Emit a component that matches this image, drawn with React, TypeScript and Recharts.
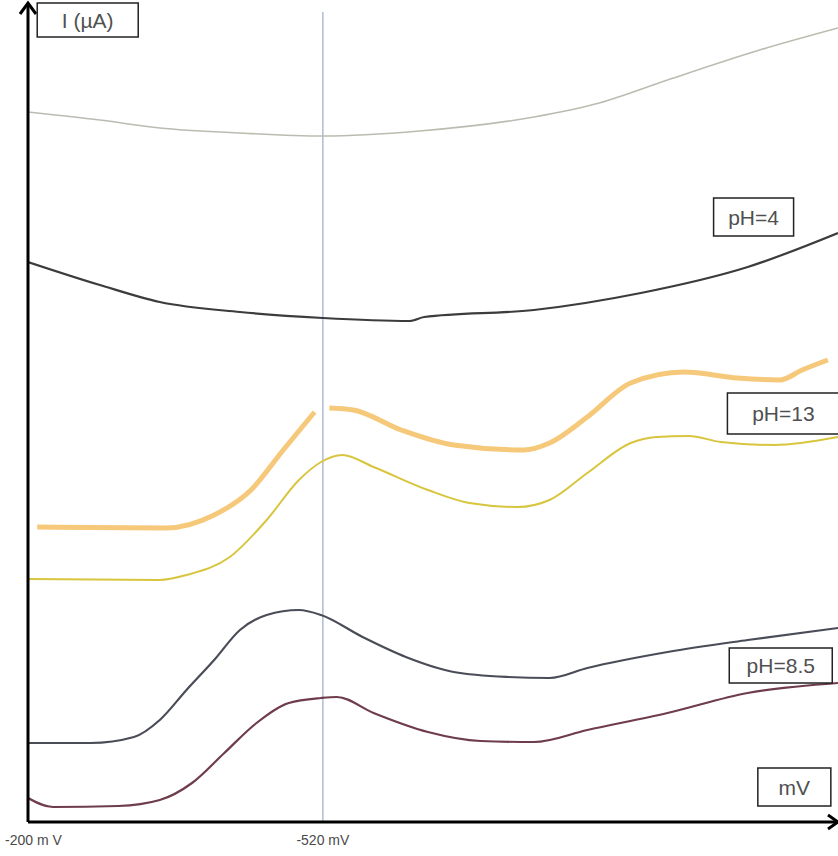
import React from "react";
import {
  LineChart,
  Line,
  XAxis,
  YAxis,
  ReferenceLine,
  ReferenceDot,
} from "recharts";

// Polarogram traces: [potential (mV), current (arb. units)]
const blankTrace: [number, number][] = [
  [-200, 71.0], [-278, 70.2], [-343, 69.4], [-430, 68.9], [-520, 68.6],
  [-625, 69.1], [-749, 70.5], [-820, 71.9], [-894, 74.2], [-994, 77.2],
  [-1079, 79.4],
];

const ph4Trace: [number, number][] = [
  [-200, 56.0], [-278, 53.7], [-343, 52.0], [-430, 51.0], [-520, 50.4],
  [-614, 50.1], [-630, 50.5], [-749, 51.2], [-865, 52.9], [-981, 55.5],
  [-1079, 58.9],
];

// thick trace is broken just before -520 mV
const ph13TraceA: [number, number | null][] = [
  [-210, 29.5], [-350, 29.4], [-402, 30.7], [-442, 33.2], [-477, 37.2],
  [-511, 41.0], [-520, null], [-527, 41.4], [-553, 41.2], [-605, 39.2],
  [-662, 37.7], [-738, 37.2], [-766, 37.9], [-807, 40.5], [-854, 43.9],
  [-912, 45.0], [-970, 44.4], [-1016, 44.2], [-1040, 45.2], [-1068, 46.2],
];

const ph13TraceB: [number, number][] = [
  [-200, 24.3], [-343, 24.2], [-372, 24.7], [-419, 26.5], [-459, 30.2],
  [-494, 34.2], [-518, 36.0], [-541, 36.7], [-575, 35.5], [-634, 33.2],
  [-679, 31.9], [-731, 31.5], [-766, 32.2], [-807, 34.9], [-854, 37.9],
  [-882, 38.5], [-917, 38.6], [-952, 38.0], [-1010, 37.7], [-1079, 38.5],
];

const ph85TraceA: [number, number][] = [
  [-200, 7.9], [-268, 7.9], [-315, 8.5], [-343, 10.2], [-372, 13.2],
  [-402, 16.2], [-430, 19.2], [-459, 20.7], [-494, 21.2], [-518, 20.7],
  [-563, 18.5], [-610, 16.5], [-662, 15.0], [-721, 14.5], [-766, 14.4],
  [-807, 15.4], [-894, 17.0], [-981, 18.2], [-1079, 19.4],
];

const ph85TraceB: [number, number][] = [
  [-200, 2.4], [-227, 1.5], [-298, 1.6], [-343, 2.2], [-378, 3.9],
  [-413, 6.9], [-448, 9.9], [-483, 11.9], [-518, 12.4], [-535, 12.5],
  [-575, 10.9], [-634, 9.0], [-691, 8.1], [-749, 8.0], [-807, 9.2],
  [-894, 10.9], [-981, 12.9], [-1079, 13.9],
];

const tickValues = [-200, -520];
const tickText = ["-200 m V", "-520 mV"];

// boxed captions: text, anchor potential, anchor current
const captionText = ["I (\u00b5A)", "pH=4", "pH=13", "pH=8.5", "mV"];
const captionMv = [-210, -944, -959, -961, -992];
const captionI = [81.9, 62.4, 42.9, 17.4, 5.4];
const captionW = [101, 80, 112, 103, 73];
const captionH = [34, 38, 41, 35, 38];

const toPoints = (trace: [number, number | null][]) =>
  trace.map(([mV, i]) => ({ mV, i }));

const FONT = "'Liberation Sans', Arial, sans-serif";

const renderTick = (props: any) => {
  const { x, y, payload } = props;
  const idx = tickValues.indexOf(payload.value);
  const first = idx === 0;
  return (
    <text
      x={first ? 5 : x}
      y={y + 15}
      textAnchor={first ? "start" : "middle"}
      fontFamily={FONT}
      fontSize={14}
      fill="#4a4a4a"
    >
      {tickText[idx]}
    </text>
  );
};

const CaptionBox = (w: number, h: number, label: string) => (props: any) => {
  const { cx, cy } = props;
  return (
    <g>
      <rect
        x={cx}
        y={cy}
        width={w}
        height={h}
        fill="#fff"
        stroke="#222"
        strokeWidth={1.5}
      />
      <text
        x={cx + w / 2}
        y={cy + h / 2 + 7.5}
        textAnchor="middle"
        fontFamily={FONT}
        fontSize={21}
        fill="#505050"
      >
        {label}
      </text>
    </g>
  );
};

// y axis runs a little past the plot top and ends in an open arrow head
const UpArrow = (props: any) => {
  const { cx, cy } = props;
  const tip = cy - 9;
  return (
    <g fill="none" stroke="#000" strokeWidth={3}>
      <path d={`M${cx},${cy} L${cx},${tip + 1}`} />
      <path d={`M${cx - 8},${tip + 11} L${cx},${tip} L${cx + 8},${tip + 11}`} />
    </g>
  );
};

const RightArrow = (props: any) => {
  const { cx, cy } = props;
  return (
    <path
      d={`M${cx - 10},${cy - 7} L${cx},${cy} L${cx - 10},${cy + 7}`}
      fill="none"
      stroke="#000"
      strokeWidth={3}
    />
  );
};

export default function App() {
  return (
    <div style={{ position: "absolute", left: 0, top: 0, background: "#fff" }}>
      <LineChart
        width={838}
        height={856}
        margin={{ top: 12, right: 0, left: 28, bottom: 0 }}
      >
        <XAxis
          type="number"
          dataKey="mV"
          domain={[-1079, -200]}
          reversed
          ticks={tickValues}
          tick={renderTick}
          axisLine={false}
          tickLine={false}
          height={34}
          allowDataOverflow
        />
        <YAxis type="number" domain={[0, 81]} hide allowDataOverflow />

        <ReferenceLine x={-520} stroke="#9aa9cc" strokeWidth={1.2} />

        <Line
          data={toPoints(blankTrace)}
          dataKey="i"
          type="monotone"
          stroke="#b9bdb0"
          strokeWidth={1.6}
          dot={false}
          isAnimationActive={false}
        />
        <Line
          data={toPoints(ph4Trace)}
          dataKey="i"
          type="monotone"
          stroke="#3c3c3c"
          strokeWidth={2.2}
          dot={false}
          isAnimationActive={false}
        />
        <Line
          data={toPoints(ph13TraceA)}
          dataKey="i"
          type="monotone"
          stroke="#f6c87a"
          strokeWidth={5}
          dot={false}
          connectNulls={false}
          isAnimationActive={false}
        />
        <Line
          data={toPoints(ph13TraceB)}
          dataKey="i"
          type="monotone"
          stroke="#d8c53e"
          strokeWidth={2}
          dot={false}
          isAnimationActive={false}
        />
        <Line
          data={toPoints(ph85TraceA)}
          dataKey="i"
          type="monotone"
          stroke="#4a4d57"
          strokeWidth={2.2}
          dot={false}
          isAnimationActive={false}
        />
        <Line
          data={toPoints(ph85TraceB)}
          dataKey="i"
          type="monotone"
          stroke="#6e3c4a"
          strokeWidth={2.2}
          dot={false}
          isAnimationActive={false}
        />

        {/* axes drawn as heavy black lines with open arrow heads */}
        <ReferenceLine x={-200} stroke="#000" strokeWidth={3} />
        <ReferenceLine y={0} stroke="#000" strokeWidth={3} />
        <ReferenceDot x={-200} y={81} ifOverflow="visible" shape={UpArrow} />
        <ReferenceDot x={-1079} y={0} ifOverflow="visible" shape={RightArrow} />

        {captionText.map((label, k) => (
          <ReferenceDot
            key={label}
            x={captionMv[k]}
            y={captionI[k]}
            ifOverflow="visible"
            shape={CaptionBox(captionW[k], captionH[k], label)}
          />
        ))}
      </LineChart>
    </div>
  );
}
